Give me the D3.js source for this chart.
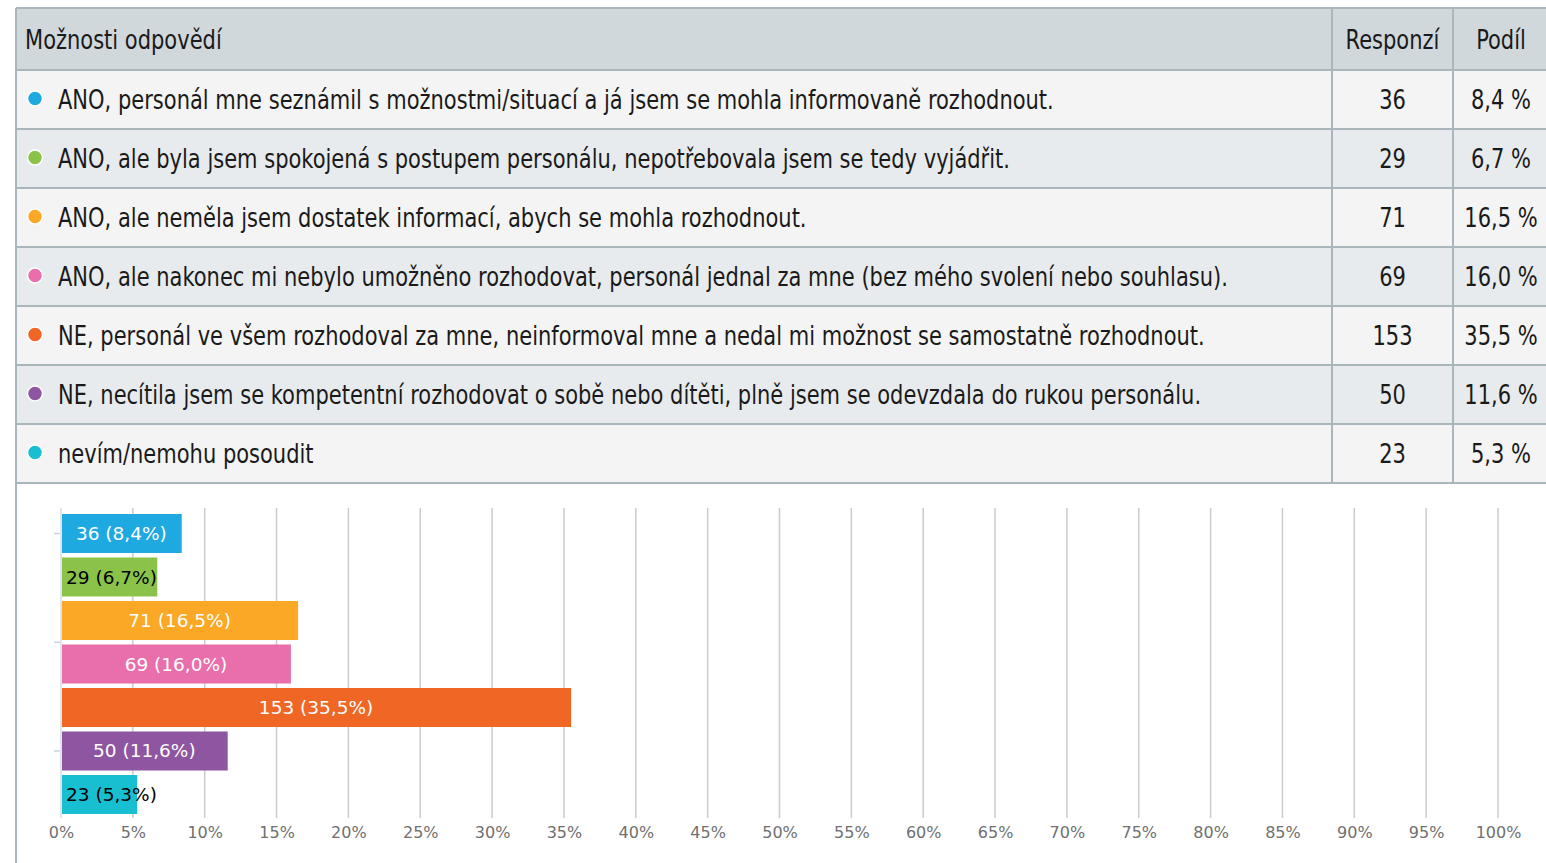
<!DOCTYPE html>
<html>
<head>
<meta charset="utf-8">
<script src="https://cdn.jsdelivr.net/npm/d3@7"></script>
<style>
  html, body { margin: 0; padding: 0; background: #fff; }
  svg { display: block; }
</style>
</head>
<body>
<svg width="1546" height="863"></svg>
<script>
// Survey answers, counts and shares (in the picture's order).
const answers = [
    "ANO, personál mne seznámil s možnostmi/situací a já jsem se mohla informovaně rozhodnout.",
    "ANO, ale byla jsem spokojená s postupem personálu, nepotřebovala jsem se tedy vyjádřit.",
    "ANO, ale neměla jsem dostatek informací, abych se mohla rozhodnout.",
    "ANO, ale nakonec mi nebylo umožněno rozhodovat, personál jednal za mne (bez mého svolení nebo souhlasu).",
    "NE, personál ve všem rozhodoval za mne, neinformoval mne a nedal mi možnost se samostatně rozhodnout.",
    "NE, necítila jsem se kompetentní rozhodovat o sobě nebo dítěti, plně jsem se odevzdala do rukou personálu.",
    "nevím/nemohu posoudit"
];
const counts = [36, 29, 71, 69, 153, 50, 23];
const shares = [8.4, 6.7, 16.5, 16.0, 35.5, 11.6, 5.3];
const colors = ["#1fa9e1", "#8bc34a", "#fba826", "#e86fac", "#f06625", "#8e55a0", "#18bfd0"];
const headers = ["Možnosti odpovědí", "Responzí", "Podíl"];
const xTicks = d3.range(0, 101, 5);

const fmt = (v) => v.toFixed(1).replace(".", ",");

const svg = d3.select("svg");
const tableFont = "'DejaVu Sans Condensed', 'DejaVu Sans', sans-serif";
const chartFont = "'DejaVu Sans', sans-serif";
const squeeze = 0.865; // the table font in the picture is narrower

// ---- table ----
const tableLeft = 16, tableRight = 1560;
const colRespX = 1332, colShareX = 1453;
const headTop = 8, headH = 62, rowH = 59;
const rowY = (i) => headTop + headH + i * rowH;
const border = "#a9b6bc";

svg.append("rect")
    .attr("x", tableLeft).attr("y", headTop)
    .attr("width", tableRight - tableLeft).attr("height", headH)
    .attr("fill", "#d0d8dc");

const rows = svg.append("g").selectAll("g")
    .data(answers)
    .join("g")
    .attr("transform", (d, i) => `translate(0,${rowY(i)})`);

rows.append("rect")
    .attr("x", tableLeft).attr("width", tableRight - tableLeft)
    .attr("height", rowH)
    .attr("fill", (d, i) => i % 2 ? "#e8ebed" : "#f4f4f4");

rows.append("circle")
    .attr("cx", 35).attr("cy", rowH / 2 - 1).attr("r", 7.5)
    .attr("fill", (d, i) => colors[i])
    .attr("stroke", "#fff").attr("stroke-width", 1.5);

// text placed at (px, py) and narrowed horizontally
const cellText = (sel, px, py, anchor) => sel
    .attr("font-family", tableFont)
    .attr("font-size", 27)
    .attr("fill", "#1a1a1a")
    .attr("text-anchor", anchor)
    .attr("transform", `translate(${px},${py}) scale(${squeeze},1)`);

const baseY = rowH / 2 + 9.5;

rows.append("text")
    .call(cellText, 58, baseY, "start")
    .text((d) => d);

rows.append("text")
    .call(cellText, (colRespX + colShareX) / 2, baseY, "middle")
    .text((d, i) => counts[i]);

rows.append("text")
    .call(cellText, 1501, baseY, "middle")
    .text((d, i) => fmt(shares[i]) + " %");

const headY = headTop + headH / 2 + 9.5;
svg.append("text").call(cellText, 25, headY, "start").text(headers[0]);
svg.append("text").call(cellText, (colRespX + colShareX) / 2, headY, "middle").text(headers[1]);
svg.append("text").call(cellText, 1501, headY, "middle").text(headers[2]);

// grid lines of the table
const lines = svg.append("g").attr("stroke", border).attr("stroke-width", 2);
d3.range(answers.length + 2).forEach((k) => {
    const yy = k === 0 ? headTop : rowY(k - 1);
    lines.append("line").attr("x1", tableLeft).attr("x2", tableRight).attr("y1", yy).attr("y2", yy);
});
[colRespX, colShareX].forEach((xx) => {
    lines.append("line").attr("x1", xx).attr("x2", xx).attr("y1", headTop).attr("y2", rowY(answers.length));
});
lines.append("line").attr("x1", tableLeft).attr("x2", tableLeft).attr("y1", headTop).attr("y2", 863);

// ---- bar chart ----
const x = d3.scaleLinear().domain([0, 100]).range([61, 1498]);
const y = d3.scaleBand().domain(d3.range(answers.length)).range([514, 814]).paddingInner(0.1034).paddingOuter(0);

const grid = svg.append("g");
grid.selectAll("line")
    .data(xTicks)
    .join("line")
    .attr("x1", (d) => x(d)).attr("x2", (d) => x(d))
    .attr("y1", 508).attr("y2", 818)
    .attr("stroke", (d) => d === 0 ? "#d3dce6" : "#cccccc")
    .attr("stroke-width", 1.5);

const xAxis = svg.append("g")
    .attr("transform", "translate(0,818)")
    .call(d3.axisBottom(x).tickValues(xTicks).tickSize(0).tickPadding(9).tickFormat((d) => d + "%"));
xAxis.select(".domain").remove();
xAxis.selectAll("text")
    .attr("font-family", chartFont)
    .attr("font-size", 16)
    .attr("fill", "#707070");

// small ticks at the left edge
const gap = y.step() - y.bandwidth();
const leftTickY = [
    y(0) + y.bandwidth() / 2,
    y(3) - gap / 2,
    y(5) + y.bandwidth() / 2
];
svg.append("g").selectAll("line")
    .data(leftTickY)
    .join("line")
    .attr("x1", 54).attr("x2", 60)
    .attr("y1", (d) => d).attr("y2", (d) => d)
    .attr("stroke", "#c8d4e0").attr("stroke-width", 1.5);

const bars = svg.append("g").selectAll("g")
    .data(shares)
    .join("g");

bars.append("rect")
    .attr("x", x(0) + 1)
    .attr("y", (d, i) => y(i))
    .attr("width", (d) => x(d) - x(0) - 1)
    .attr("height", y.bandwidth())
    .attr("fill", (d, i) => colors[i]);

bars.append("text")
    .attr("font-family", chartFont)
    .attr("font-size", 18.5)
    .attr("y", (d, i) => y(i) + y.bandwidth() / 2 + 6.5)
    .attr("x", (d) => d < 8 ? x(0) + 5 : (x(0) + x(d)) / 2)
    .attr("text-anchor", (d) => d < 8 ? "start" : "middle")
    .attr("fill", (d) => d < 8 ? "#000" : "#fff")
    .text((d, i) => `${counts[i]} (${fmt(d)}%)`);
</script>
</body>
</html>
